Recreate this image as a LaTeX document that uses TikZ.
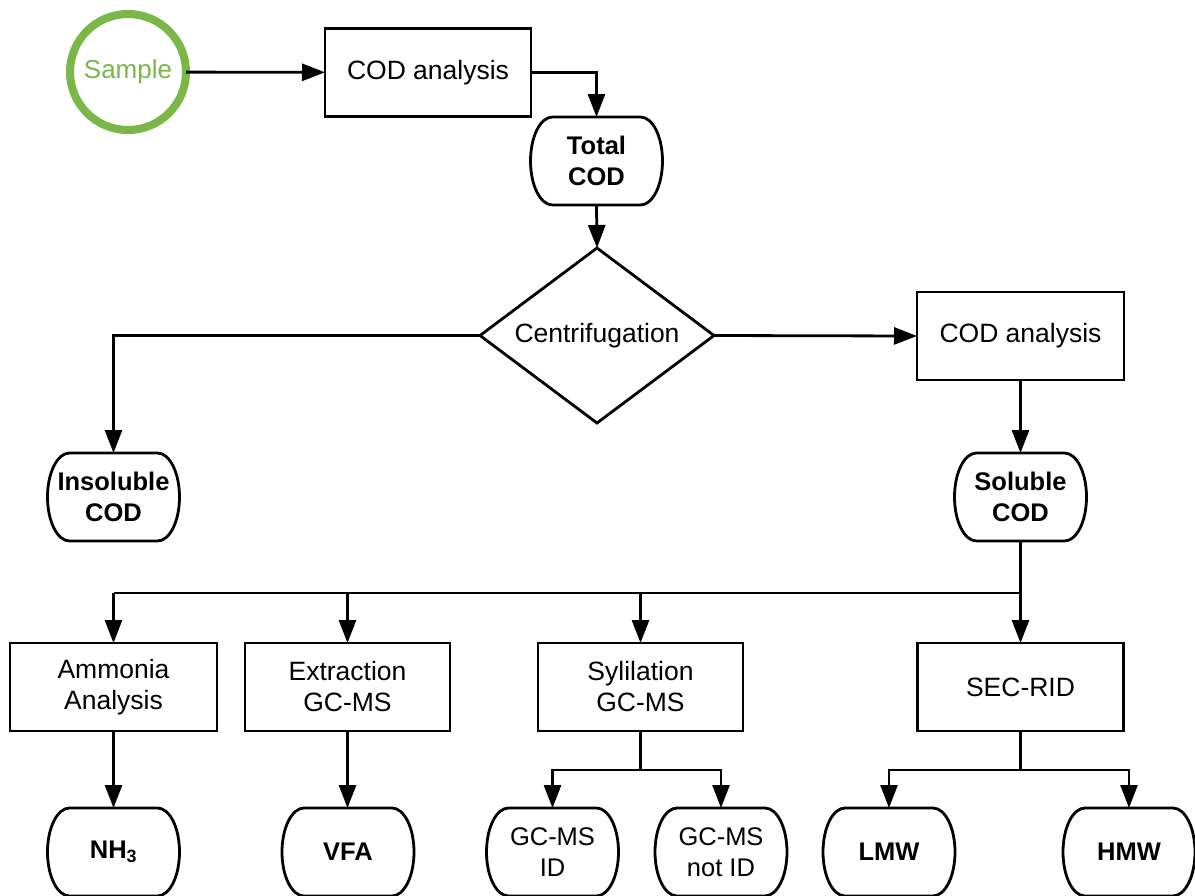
\documentclass[tikz,border=0pt]{standalone}
\usepackage{fontspec}
\setmainfont{Liberation Sans}
\usetikzlibrary{arrows.meta,shapes.geometric}
\definecolor{samplegreen}{RGB}{122,182,72}
\tikzset{
  ln/.style={line width=2.8pt, draw=black},
  arr/.style={ln, -{Triangle[length=23pt,width=17pt]}},
  box/.style={ln, rectangle, inner sep=0pt, outer sep=0pt, align=center, minimum height=88pt, font=\fontsize{26.5}{31}\selectfont},
  termtext/.style={rectangle, inner sep=0pt, outer sep=0pt, align=center, minimum width=132pt, minimum height=88pt, font=\fontsize{25.5}{31}\selectfont\bfseries},
  decision/.style={ln, diamond, inner sep=0pt, outer sep=0pt, minimum width=234pt, minimum height=175pt},
  dtext/.style={inner sep=0pt, font=\fontsize{26.5}{31}\selectfont},
}
\newcommand{\terminal}[3]{%
  \node[termtext] (#1) at (#2) {#3};
  \draw[ln] ([xshift=22pt]#1.north west) -- ([xshift=-22pt]#1.north east)
    arc[start angle=90,end angle=-90,x radius=22pt,y radius=44pt]
    -- ([xshift=22pt]#1.south west)
    arc[start angle=270,end angle=90,x radius=22pt,y radius=44pt] -- cycle;
}
\begin{document}
\begin{tikzpicture}[x=1pt,y=-1pt]
\useasboundingbox (0,0) rectangle (1195,895);
% nodes
\node[circle, draw=samplegreen, line width=8pt, minimum size=116pt, inner sep=0pt, outer sep=0pt,
      text=samplegreen, font=\fontsize{26}{31}\selectfont] (sample) at (128,72) {Sample};
\node[box, minimum width=206pt] (cod1) at (428,72.5) {COD analysis};
\terminal{total}{596.5,161}{Total\\COD}
\node[decision] (cent) at (597,335.5) {};
\node[dtext] (centlabel) at (cent.center) {Centrifugation};
\terminal{insol}{113.5,497}{Insoluble\\COD}
\node[box, minimum width=207pt] (cod2) at (1020.5,336) {COD analysis};
\terminal{sol}{1020.5,497}{Soluble\\COD}
\node[box, minimum width=207pt] (amm) at (113.5,687) {Ammonia\\Analysis};
\node[box, minimum width=205pt] (ext) at (347.5,687) {Extraction\\GC-MS};
\node[box, minimum width=205pt] (syl) at (640.5,687) {Sylilation\\GC-MS};
\node[box, minimum width=206pt] (sec) at (1020.5,687) {SEC-RID};
\terminal{nh3}{113.5,852}{NH\textsubscript{3}}
\terminal{vfa}{348,852}{VFA}
\terminal{gcid}{552.5,852}{\mdseries GC-MS\\\mdseries ID}
\terminal{notid}{721,852}{\mdseries GC-MS\\\mdseries not ID}
\terminal{lmw}{889,852}{LMW}
\terminal{hmw}{1129,852}{HMW}
\coordinate (bus) at (0,593);
\coordinate (busb) at (0,770);
% connectors
\draw[arr] (sample) -- (cod1);
\draw[arr] (cod1.east) -| (total.north);
\draw[arr] (total.south) -- (cent.north);
\draw[arr] (cent.west) -| (insol.north);
\draw[arr] (cent.east) -- (cod2.west);
\draw[arr] (cod2.south) -- (sol.north);
\draw[arr] (sol.south) -- (sec.north);
\draw[ln] (sol.south |- bus) -- (amm.north |- bus);
\draw[arr] (amm.north |- bus) -- (amm.north);
\draw[arr] (ext.north |- bus) -- (ext.north);
\draw[arr] (syl.north |- bus) -- (syl.north);
\draw[ln] (syl.south) -- (syl.south |- busb);
\draw[arr] (syl.south |- busb) -| (gcid.north);
\draw[arr] (syl.south |- busb) -| (notid.north);
\draw[ln] (sec.south) -- (sec.south |- busb);
\draw[arr] (sec.south |- busb) -| (lmw.north);
\draw[arr] (sec.south |- busb) -| (hmw.north);
\draw[arr] (amm.south) -- (nh3.north);
\draw[arr] (ext.south) -- (ext.south |- vfa.north);
\end{tikzpicture}
\end{document}
